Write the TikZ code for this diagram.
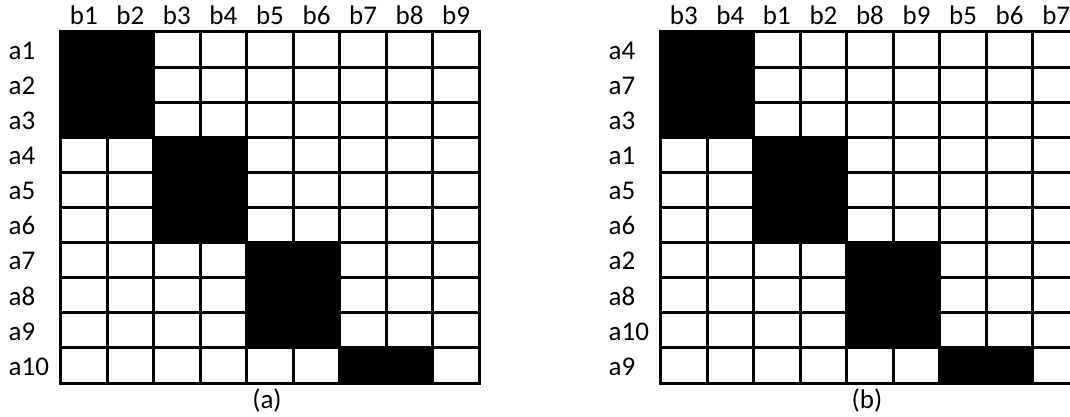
\documentclass[tikz,border=0pt]{standalone}
\usepackage{fontspec}
\setmainfont{Carlito}
\tikzset{
  lbl/.style={font=\fontsize{27}{32}\selectfont, inner sep=0pt},
  gridline/.style={line width=3pt, line cap=rect},
  block/.style={fill=black}
}
\newcommand\mymatrix[5]{%
  % #1 x0, #2 name prefix, #3 row labels, #4 col labels, #5 caption
  \def\xo{#1}\def\yo{32}\def\cw{46.55}\def\rh{35.1}
  \fill[white] (\xo,\yo) rectangle ({\xo+9*\cw},{\yo+10*\rh});
  \fill[block] (\xo,\yo) rectangle ({\xo+2*\cw},{\yo+3*\rh});
  \fill[block] ({\xo+2*\cw},{\yo+3*\rh}) rectangle ({\xo+4*\cw},{\yo+6*\rh});
  \fill[block] ({\xo+4*\cw},{\yo+6*\rh}) rectangle ({\xo+6*\cw},{\yo+9*\rh});
  \fill[block] ({\xo+6*\cw},{\yo+9*\rh}) rectangle ({\xo+8*\cw},{\yo+10*\rh});
  \foreach \k in {1,...,8} \draw[gridline] ({\xo+\k*\cw},\yo) -- ({\xo+\k*\cw},{\yo+10*\rh});
  \foreach \k in {1,...,9} \draw[gridline] (\xo,{\yo+\k*\rh}) -- ({\xo+9*\cw},{\yo+\k*\rh});
  \draw[gridline] (\xo,\yo) rectangle ({\xo+9*\cw},{\yo+10*\rh});
  \foreach \r [count=\i from 0] in {#3}
    \node[lbl, anchor=base west] (#2r\i) at ({\xo-52},{\yo+\i*\rh+27.3}) {\r};
  \foreach \c [count=\j from 0] in {#4}
    \node[lbl, anchor=base] (#2c\j) at ({\xo+(\j+0.5)*\cw},24.5) {\c};
  \node[lbl, anchor=base] (#2cap) at ({\xo+4.5*\cw-3},408.5) {#5};
}
\begin{document}
\begin{tikzpicture}[x=1pt,y=-1pt]
\useasboundingbox (0,0) rectangle (1070,417);
\clip (0,0) rectangle (1070,417);
\mymatrix{60.5}{A}{a1,a2,a3,a4,a5,a6,a7,a8,a9,a10}{b1,b2,b3,b4,b5,b6,b7,b8,b9}{(a)}
\mymatrix{660.5}{B}{a4,a7,a3,a1,a5,a6,a2,a8,a10,a9}{b3,b4,b1,b2,b8,b9,b5,b6,b7}{(b)}
\end{tikzpicture}
\end{document}
